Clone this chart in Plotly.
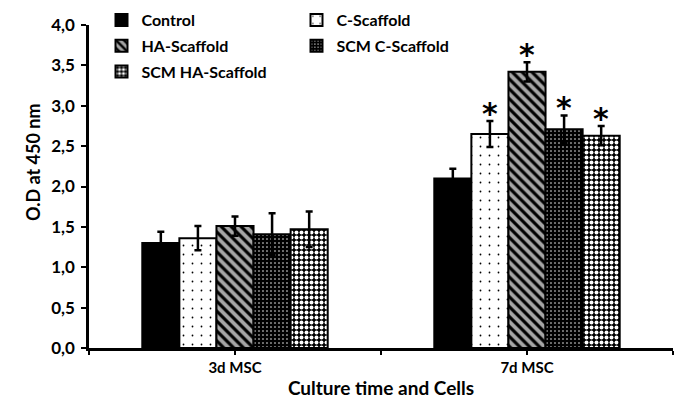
import plotly.graph_objects as go

categories = ["3d MSC", "7d MSC"]
series = ["Control", "C-Scaffold", "HA-Scaffold", "SCM C-Scaffold", "SCM HA-Scaffold"]
values = {
    "Control": [1.30, 2.10],
    "C-Scaffold": [1.36, 2.65],
    "HA-Scaffold": [1.51, 3.42],
    "SCM C-Scaffold": [1.41, 2.71],
    "SCM HA-Scaffold": [1.47, 2.63],
}
errors = {
    "Control": [0.14, 0.12],
    "C-Scaffold": [0.15, 0.16],
    "HA-Scaffold": [0.12, 0.12],
    "SCM C-Scaffold": [0.26, 0.17],
    "SCM HA-Scaffold": [0.22, 0.12],
}
significant = {
    "Control": [False, False],
    "C-Scaffold": [False, True],
    "HA-Scaffold": [False, True],
    "SCM C-Scaffold": [False, True],
    "SCM HA-Scaffold": [False, True],
}
y_ticks = [0.0, 0.5, 1.0, 1.5, 2.0, 2.5, 3.0, 3.5, 4.0]
y_title = "O.D at 450 nm"
x_title = "Culture time and Cells"

styles = {
    "Control": dict(color="black", pattern=dict(shape="")),
    "C-Scaffold": dict(color="white", pattern=dict(shape=".", fgcolor="black", bgcolor="white", size=9, solidity=0.03, fillmode="replace")),
    "HA-Scaffold": dict(color="#a6a6a6", pattern=dict(shape="\\", fgcolor="black", bgcolor="#a6a6a6", size=7, solidity=0.45, fillmode="replace")),
    "SCM C-Scaffold": dict(color="black", pattern=dict(shape=".", fgcolor="white", bgcolor="black", size=4, solidity=0.12, fillmode="replace")),
    "SCM HA-Scaffold": dict(color="black", pattern=dict(shape=".", fgcolor="white", bgcolor="black", size=5, solidity=0.5, fillmode="replace")),
}
# legend column of each series (two-column legend, filled row by row)
legend_ref = ["legend", "legend2", "legend", "legend2", "legend"]

FONT = "Lato"
W, H = 680, 399
ML, MR, MT, MB = 89, 7, 25, 51
pw, ph = W - ML - MR, H - MT - MB
bar_w = 0.127
n = len(series)
cat_pos = list(range(len(categories)))

fig = go.Figure()
annotations = []
for i, s in enumerate(series):
    off = (i - (n - 1) / 2) * bar_w
    xs = [c + off for c in cat_pos]
    st = styles[s]
    fig.add_trace(go.Bar(
        x=xs, y=values[s], width=bar_w, name=s,
        legend=legend_ref[i], legendgroup=s,
        marker=dict(color=st["color"], pattern=st["pattern"],
                    line=dict(color="black", width=2)),
        error_y=dict(type="data", array=errors[s], visible=True,
                     color="black", thickness=2.5, width=3.5),
    ))
    for j in cat_pos:
        if significant[s][j]:
            annotations.append(dict(
                x=xs[j], y=values[s][j] + errors[s][j], xref="x", yref="y",
                text="<b>*</b>", showarrow=False, yanchor="bottom", yshift=-12,
                font=dict(family="DejaVu Sans", size=30, color="black"),
            ))

annotations.append(dict(
    x=(33 - ML) / pw, y=(H - MB - 162) / ph, xref="paper", yref="paper",
    text=y_title, showarrow=False, textangle=-90,
    xanchor="center", yanchor="middle",
    font=dict(family=FONT, size=18, color="black", weight="bold"),
))

leg_common = dict(
    orientation="v", yanchor="top", xanchor="left",
    font=dict(family=FONT, size=16, color="black", weight="bold"),
    tracegroupgap=2, bgcolor="rgba(0,0,0,0)",
)

fig.update_layout(
    width=W, height=H,
    margin=dict(l=ML, r=MR, t=MT, b=MB, autoexpand=False),
    paper_bgcolor="white", plot_bgcolor="white",
    separators=",.",
    barmode="overlay",
    font=dict(family=FONT, color="black"),
    showlegend=True,
    legend=dict(x=(101.5 - ML) / pw, y=(H - MB - 3) / ph, **leg_common),
    legend2=dict(x=(296.5 - ML) / pw, y=(H - MB - 3) / ph, **leg_common),
    annotations=annotations,
)
fig.update_xaxes(
    range=[-0.5, 1.5], showgrid=False, zeroline=False,
    showline=True, linecolor="black", linewidth=2.5,
    tickvals=[-0.5, 0, 0.5, 1, 1.5], ticktext=["", categories[0], "", categories[1], ""],
    ticks="outside", ticklen=4, tickwidth=2, tickcolor="black",
    tickfont=dict(family=FONT, size=15, color="black", weight="bold"),
    title=dict(text=x_title, standoff=7,
               font=dict(family=FONT, size=19, color="black", weight="bold")),
)
fig.update_yaxes(
    range=[0, 4], showgrid=False, zeroline=False,
    showline=True, linecolor="black", linewidth=2.5,
    tickvals=y_ticks, tickformat=".1f",
    ticks="outside", ticklen=5, tickwidth=2, tickcolor="black",
    ticklabelstandoff=3,
    tickfont=dict(family=FONT, size=17, color="black", weight="bold"),
)

fig.write_html("out.html")
